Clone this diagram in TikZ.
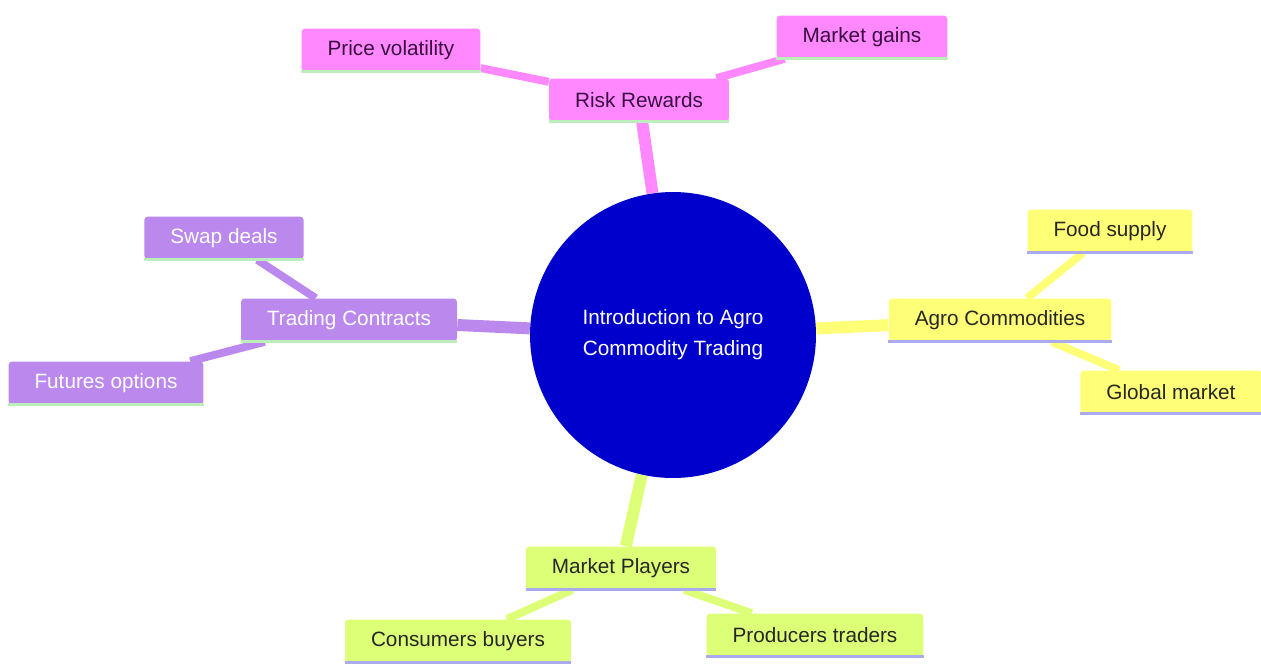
\documentclass[tikz,border=0pt]{standalone}
\usepackage{fontspec}
\setmainfont{Liberation Sans}
\usetikzlibrary{backgrounds}

\definecolor{hubblue}{HTML}{0000CC}
\definecolor{riskpink}{HTML}{FF88FF}
\definecolor{agroyellow}{HTML}{FFFF77}
\definecolor{tradepurple}{HTML}{BB88EE}
\definecolor{playgreen}{HTML}{DDFF77}
\definecolor{mintline}{HTML}{BBEEBB}
\definecolor{lavline}{HTML}{AAAAEE}
\definecolor{plumtext}{HTML}{3A0D40}

\begin{document}
\begin{tikzpicture}[x=0.02cm, y=-0.02cm,
		every node/.style={font=\fontsize{11.8}{17.6}\selectfont},
		box/.style={rounded corners=2pt, inner xsep=0.52cm, minimum height=0.86cm},
		pinkbox/.style={box, fill=riskpink, text=plumtext},
		yellowbox/.style={box, fill=agroyellow, text=black!85},
		purplebox/.style={box, fill=tradepurple, text=white},
		greenbox/.style={box, fill=playgreen, text=black!85},
		trunk/.style={line width=6.8pt},
		twig/.style={line width=4.5pt}
	]
	\useasboundingbox (0,0) rectangle (1261,664);

	% hub
	\node[circle, fill=hubblue, text=white, minimum size=5.72cm, align=center] (hub) at (673,335) {Introduction to Agro\\Commodity Trading};

	% risk rewards
	\node[pinkbox] (risk) at (639,100) {Risk Rewards};
	\node[pinkbox] (price) at (391,50) {Price volatility};
	\node[pinkbox] (gains) at (862,37) {Market gains};

	% agro commodities
	\node[yellowbox] (agro) at (1000,320) {Agro Commodities};
	\node[yellowbox] (food) at (1110,231) {Food supply};
	\node[yellowbox] (global) at (1171,392) {Global market};

	% trading contracts
	\node[purplebox] (trade) at (349,320) {Trading Contracts};
	\node[purplebox] (swap) at (224,238) {Swap deals};
	\node[purplebox] (futures) at (106,383) {Futures options};

	% market players
	\node[greenbox] (players) at (621,568) {Market Players};
	\node[greenbox] (consumers) at (458,641) {Consumers buyers};
	\node[greenbox] (producers) at (815,635) {Producers traders};

	% under lines
	\foreach \n in {risk,price,gains,trade,swap,futures}
		\draw[mintline, line width=1.6pt] (\n.south west) -- (\n.south east);
	\foreach \n in {agro,food,global,players,consumers,producers}
		\draw[lavline, line width=1.6pt] (\n.south west) -- (\n.south east);

	\begin{scope}[on background layer]
		\draw[trunk, riskpink] (hub) -- (risk);
		\draw[twig, riskpink] (risk) -- (price);
		\draw[twig, riskpink] (risk) -- (gains);
		\draw[trunk, agroyellow] (hub) -- (agro);
		\draw[twig, agroyellow] (agro) -- (food);
		\draw[twig, agroyellow] (agro) -- (global);
		\draw[trunk, tradepurple] (hub) -- (trade);
		\draw[twig, tradepurple] (trade) -- (swap);
		\draw[twig, tradepurple] (trade) -- (futures);
		\draw[trunk, playgreen] (hub) -- (players);
		\draw[twig, playgreen] (players) -- (consumers);
		\draw[twig, playgreen] (players) -- (producers);
	\end{scope}
\end{tikzpicture}
\end{document}
